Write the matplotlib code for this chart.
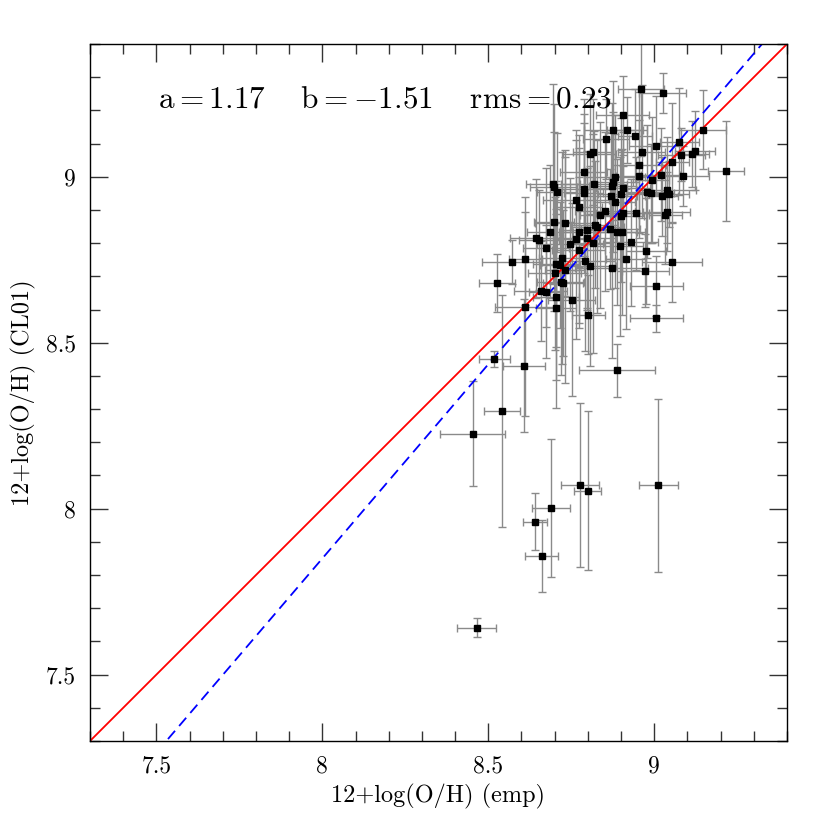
import numpy as np
import matplotlib
matplotlib.use("Agg")
import matplotlib.pyplot as plt
from matplotlib.ticker import MultipleLocator, FuncFormatter

plt.rcParams["mathtext.fontset"] = "cm"
plt.rcParams["axes.unicode_minus"] = False

# fit of CL01 abundances against the empirical ones
FIT_A, FIT_B, FIT_RMS = 1.17, -1.51, 0.23
XLIM = (7.3, 9.4)
YLIM = (7.3, 9.4)

oh_emp = [
    8.960, 9.025, 8.905, 8.877, 8.918, 8.854, 8.942, 9.146, 9.076, 9.004,
    8.962, 8.805, 8.815, 9.082, 9.114, 9.124, 9.054, 8.954, 8.787, 9.216,
    9.086, 9.019, 8.954, 8.994, 8.881, 8.876, 8.874, 8.819, 8.695, 8.697,
    8.708, 8.789, 8.787, 8.906, 8.977, 8.989, 9.022, 9.037, 9.045, 8.901,
    8.869, 8.765, 8.882, 8.772, 8.851, 8.837, 8.905, 8.899, 8.945, 9.037,
    9.033, 8.698, 8.731, 8.821, 8.828, 8.686, 8.772, 8.797, 8.868, 8.889,
    8.902, 8.645, 8.654, 8.765, 8.796, 8.814, 8.930, 8.674, 8.747, 8.897,
    8.976, 8.612, 8.572, 8.722, 8.773, 8.915, 8.792, 8.704, 8.716, 8.805,
    8.872, 8.973, 8.730, 8.700, 9.054, 9.006, 8.527, 8.718, 8.725, 8.658,
    8.673, 8.704, 8.705, 8.610, 8.751, 8.801, 9.006, 8.518, 8.607, 8.888,
    8.542, 8.453, 8.776, 8.799, 9.012, 8.689, 8.641, 8.661, 8.465,
]
oh_cl01 = [
    9.263, 9.252, 9.185, 9.140, 9.141, 9.113, 9.124, 9.142, 9.106, 9.094,
    9.076, 9.068, 9.075, 9.067, 9.069, 9.079, 9.043, 9.035, 9.014, 9.017,
    9.002, 9.006, 9.001, 8.990, 9.000, 8.984, 8.972, 8.978, 8.978, 8.968,
    8.953, 8.962, 8.950, 8.966, 8.955, 8.950, 8.941, 8.961, 8.948, 8.947,
    8.942, 8.930, 8.925, 8.908, 8.896, 8.884, 8.892, 8.882, 8.890, 8.895,
    8.886, 8.865, 8.861, 8.856, 8.850, 8.835, 8.835, 8.839, 8.843, 8.833,
    8.833, 8.814, 8.810, 8.812, 8.815, 8.800, 8.802, 8.786, 8.797, 8.790,
    8.776, 8.753, 8.743, 8.755, 8.780, 8.752, 8.745, 8.736, 8.734, 8.731,
    8.725, 8.717, 8.720, 8.709, 8.742, 8.671, 8.680, 8.684, 8.680, 8.656,
    8.654, 8.638, 8.604, 8.608, 8.630, 8.585, 8.573, 8.450, 8.431, 8.417,
    8.295, 8.226, 8.072, 8.054, 8.070, 8.002, 7.961, 7.858, 7.642,
]
err_emp = [
    0.07, 0.07, 0.08, 0.09, 0.06, 0.07, 0.05, 0.07, 0.06, 0.08,
    0.07, 0.08, 0.06, 0.07, 0.05, 0.06, 0.05, 0.08, 0.07, 0.055,
    0.08, 0.06, 0.07, 0.05, 0.09, 0.06, 0.07, 0.10, 0.08, 0.07,
    0.06, 0.09, 0.06, 0.08, 0.06, 0.07, 0.05, 0.09, 0.06, 0.07,
    0.08, 0.10, 0.06, 0.07, 0.09, 0.06, 0.08, 0.07, 0.10, 0.07,
    0.05, 0.06, 0.09, 0.07, 0.08, 0.07, 0.06, 0.08, 0.09, 0.06,
    0.07, 0.08, 0.06, 0.07, 0.09, 0.06, 0.08, 0.07, 0.10, 0.07,
    0.06, 0.05, 0.09, 0.07, 0.08, 0.06, 0.09, 0.07, 0.06, 0.08,
    0.11, 0.07, 0.06, 0.08, 0.09, 0.08, 0.055, 0.07, 0.06, 0.08,
    0.05, 0.07, 0.06, 0.09, 0.07, 0.05, 0.08, 0.046, 0.063, 0.114,
    0.054, 0.098, 0.058, 0.042, 0.059, 0.057, 0.036, 0.05, 0.058,
]
err_cl01 = [
    0.20, 0.06, 0.12, 0.15, 0.10, 0.12, 0.14, 0.12, 0.16, 0.15,
    0.20, 0.18, 0.16, 0.08, 0.10, 0.12, 0.18, 0.22, 0.22, 0.15,
    0.09, 0.14, 0.17, 0.19, 0.13, 0.21, 0.25, 0.16, 0.30, 0.25,
    0.18, 0.20, 0.24, 0.17, 0.20, 0.15, 0.12, 0.16, 0.10, 0.23,
    0.19, 0.21, 0.26, 0.18, 0.24, 0.28, 0.14, 0.20, 0.17, 0.12,
    0.15, 0.27, 0.22, 0.19, 0.26, 0.20, 0.29, 0.24, 0.18, 0.22,
    0.25, 0.18, 0.15, 0.30, 0.21, 0.33, 0.19, 0.24, 0.20, 0.27,
    0.16, 0.14, 0.065, 0.32, 0.22, 0.21, 0.27, 0.25, 0.19, 0.30,
    0.27, 0.11, 0.34, 0.23, 0.12, 0.09, 0.087, 0.28, 0.22, 0.15,
    0.20, 0.25, 0.30, 0.33, 0.29, 0.12, 0.04, 0.024, 0.20, 0.08,
    0.35, 0.159, 0.247, 0.24, 0.26, 0.208, 0.085, 0.108, 0.03,
]

fig = plt.figure(figsize=(8.3, 8.3), dpi=100)
ax = fig.add_axes([0.1084, 0.1072, 0.8398, 0.8398])

ax.errorbar(oh_emp, oh_cl01, xerr=err_emp, yerr=err_cl01, fmt="none",
            ecolor="#8a8a8a", elinewidth=1.0, capsize=3, capthick=1.0, zorder=1)

xx = np.array(XLIM)
ax.plot(xx, xx, color="red", lw=1.3, zorder=2)
ax.plot(xx, FIT_A * xx + FIT_B, color="blue", lw=1.3, dashes=(6, 3.5), zorder=2)

ax.plot(oh_emp, oh_cl01, "s", color="black", ms=5, mec="black", zorder=3)

ax.text(7.505, 9.234, r"$\mathrm{a=%.2f\ \ \ \ b={-}%.2f\ \ \ \ rms=%.2f}$"
        % (FIT_A, -FIT_B, FIT_RMS), fontsize=22.5, ha="left", va="center")

ax.set_xlim(*XLIM)
ax.set_ylim(*YLIM)
for axis in (ax.xaxis, ax.yaxis):
    axis.set_major_locator(MultipleLocator(0.5))
    axis.set_minor_locator(MultipleLocator(0.1))
    axis.set_major_formatter(FuncFormatter(lambda v, p: f"{v:g}"))
ax.tick_params(which="both", direction="in", top=True, right=True,
               width=1.0, color="#333333")
ax.tick_params(which="major", length=13, labelsize=17, pad=10)
ax.tick_params(which="minor", length=7)
for lab in ax.get_xticklabels() + ax.get_yticklabels():
    lab.set_family("cmr10")
for s in ax.spines.values():
    s.set_linewidth(1.0)

ax.set_xlabel("12+log(O/H) (emp)", fontsize=17.5, family="cmr10", labelpad=5)
ax.set_ylabel("12+log(O/H) (CL01)", fontsize=17.5, family="cmr10", labelpad=7)

fig.savefig("out.png", dpi=100, facecolor="white")
